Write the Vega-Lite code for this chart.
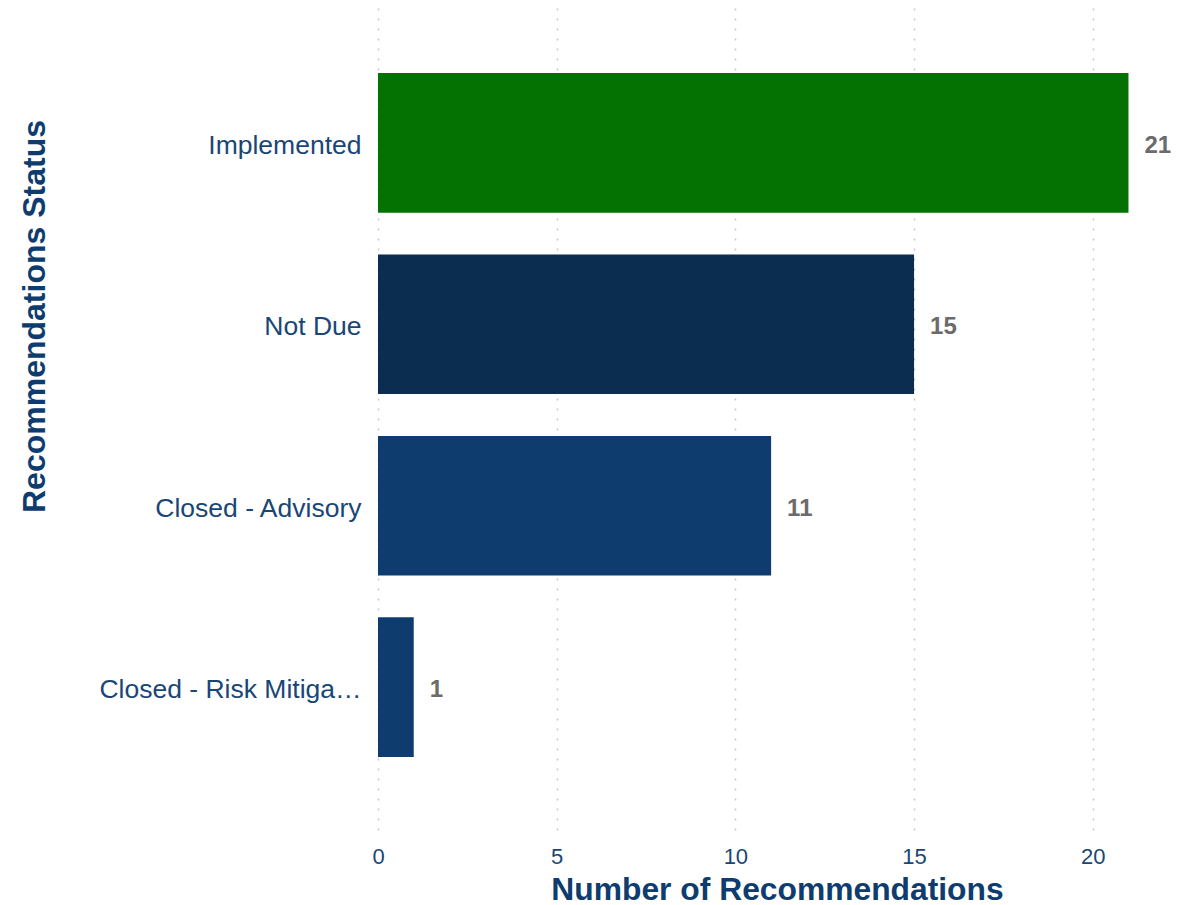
{
  "$schema": "https://vega.github.io/schema/vega-lite/v6.json",
  "autosize": {"type": "none"},
  "padding": {"left": 378, "top": 0, "right": 25, "bottom": 75},
  "width": 788,
  "height": 830,
  "background": "white",
  "data": {
    "values": [
      {"status": "Implemented", "count": 21, "color": "#037203"},
      {"status": "Not Due", "count": 15, "color": "#0b2d50"},
      {"status": "Closed - Advisory", "count": 11, "color": "#0f3c6e"},
      {"status": "Closed - Risk Mitigation Accepted", "count": 1, "color": "#0f3c6e"}
    ]
  },
  "config": {
    "view": {"stroke": null},
    "font": "Liberation Sans"
  },
  "layer": [
    {
      "mark": {"type": "bar"},
      "encoding": {
        "y": {
          "field": "status",
          "type": "nominal",
          "sort": null,
          "scale": {"paddingInner": 0.231, "paddingOuter": 0.403},
          "axis": {
            "title": "Recommendations Status",
            "titleFontSize": 32,
            "titleFontWeight": "bold",
            "titleColor": "#0f3c6e",
            "titleAngle": -90,
            "titleX": -334,
            "titleY": 316,
            "titleAlign": "center",
            "titleBaseline": "alphabetic",
            "labelFontSize": 26.5,
            "labelColor": "#1a4676",
            "labelPadding": 17,
            "labelOffset": 3,
            "labelLimit": 264,
            "domain": false,
            "ticks": false,
            "grid": false
          }
        },
        "x": {
          "field": "count",
          "type": "quantitative",
          "scale": {"domain": [0, 22.05], "nice": false},
          "axis": {
            "title": "Number of Recommendations",
            "titleFontSize": 31.8,
            "titleFontWeight": "bold",
            "titleColor": "#0f3c6e",
            "titleX": 399,
            "titleY": 69,
            "titleAlign": "center",
            "titleBaseline": "alphabetic",
            "values": [0, 5, 10, 15, 20],
            "labelFontSize": 22,
            "labelColor": "#1a4676",
            "labelPadding": 16,
            "labelFlush": false,
            "domain": false,
            "ticks": false,
            "grid": true,
            "gridColor": "#c8c8c8",
            "gridDash": [2, 8],
            "gridWidth": 1.5
          }
        },
        "color": {"field": "color", "type": "nominal", "scale": null}
      }
    },
    {
      "mark": {"type": "text", "align": "left", "dx": 16, "dy": 3, "fontSize": 24, "fontWeight": "bold", "color": "#6b6b6b", "baseline": "middle"},
      "encoding": {
        "y": {"field": "status", "type": "nominal", "sort": null},
        "x": {"field": "count", "type": "quantitative"},
        "text": {"field": "count", "type": "quantitative"}
      }
    }
  ]
}
